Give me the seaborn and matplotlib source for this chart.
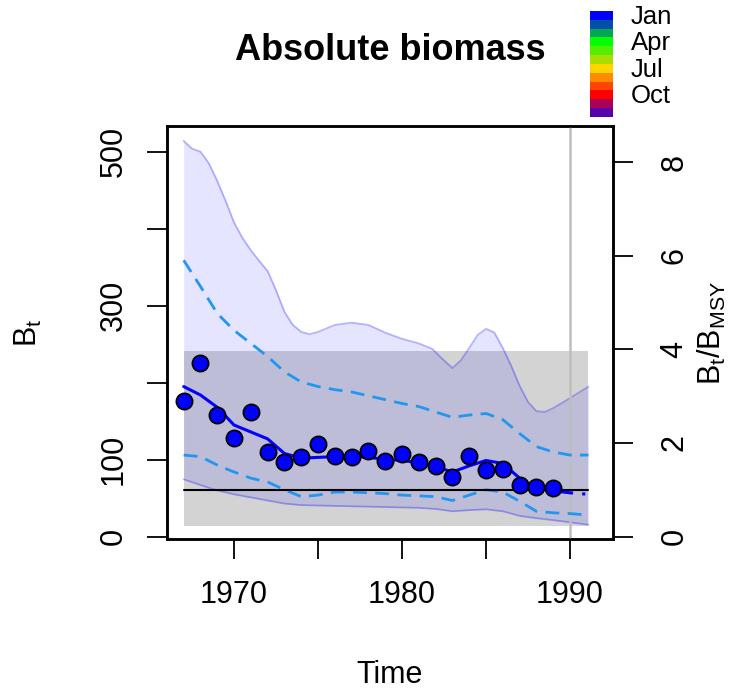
import numpy as np
import pandas as pd
import matplotlib
matplotlib.use("Agg")
import matplotlib.pyplot as plt
import seaborn as sns

# ---------------- data ----------------
obs_years = list(range(1967, 1990))
obs_biomass = [176, 225, 158, 128, 162, 110, 97, 103, 120, 105, 104, 111, 98,
               108, 97, 92, 77, 105, 87, 88, 67, 64, 63.5]

est_years = list(range(1967, 1991))
est_biomass = [195, 184, 168, 145, 136, 127, 108, 102, 103, 104, 105, 103, 100.5,
               99, 96, 91, 84, 92, 99, 95, 76, 63, 59.5, 57]

fc_years = [1990, 1991.1]
fc_biomass = [57, 55]

ci_years = list(range(1967, 1991)) + [1991.1]
ci_low = [106, 104, 93, 84, 76, 71, 61, 52, 54, 58, 58, 57, 56, 54, 53, 52, 47,
          54, 61, 58, 46, 33, 31, 30, 28]
ci_high = [359, 325, 290, 268, 251, 234, 214, 201, 195, 191, 188, 183, 178, 173,
           169, 162, 155, 158, 160, 152, 134, 117, 110, 106, 106]

band_up_years = [1967, 1967.5, 1968, 1968.5, 1969, 1969.5, 1970, 1970.5, 1971,
                 1971.5, 1972, 1972.5, 1973, 1973.5, 1974, 1974.5, 1975, 1976,
                 1977, 1978, 1979, 1980, 1981, 1981.8, 1982.3, 1983, 1983.5, 1984,
                 1984.5, 1985, 1985.5, 1986, 1986.5, 1987, 1987.5, 1988, 1988.5,
                 1989, 1990, 1991.1]
band_up = [514, 504, 500, 485, 462, 436, 408, 388, 372, 358, 345, 320, 292, 275,
           266, 263, 266, 275, 278, 275, 265, 257, 251, 244, 233, 219, 229, 245,
           262, 270, 265, 245, 222, 196, 175, 163, 162, 167, 180, 195]

band_low_years = list(range(1967, 1991)) + [1991.1]
band_low = [74.5, 67, 60, 55, 51, 47, 43, 41, 40.5, 40, 39.5, 39, 38.5, 38, 37.5,
            36, 33, 34.5, 35.5, 33, 27, 24, 21.5, 18.7, 15.5]

Bmsy = 60.8
Bmsy_ci = [14.3, 241]
rect_years = [1967, 1991.1]
t_last = 1990

month_colors = ["#0000FF", "#0050AA", "#00A856", "#00FF00", "#55EE00", "#AADD00",
                "#FFD500", "#FF8C00", "#FF4500", "#FF0000", "#AA0055", "#5500AA"]
month_labels = ["Jan", "Apr", "Jul", "Oct"]

left_ticks = [0, 100, 200, 300, 400, 500]
left_ticklabels = ["0", "100", "", "300", "", "500"]
right_ticks = [0, 2, 4, 6, 8]
x_ticks = [1970, 1975, 1980, 1985, 1990]
x_ticklabels = ["1970", "", "1980", "", "1990"]

# ---------------- style ----------------
sns.set_theme(style="ticks")
plt.rcParams["font.family"] = ["Liberation Sans", "DejaVu Sans"]
plt.rcParams["mathtext.fontset"] = "custom"
plt.rcParams["mathtext.rm"] = "Liberation Sans"
plt.rcParams["mathtext.it"] = "Liberation Sans:italic"
plt.rcParams["mathtext.bf"] = "Liberation Sans:bold"
plt.rcParams["text.color"] = "black"
plt.rcParams["axes.labelcolor"] = "black"
plt.rcParams["xtick.color"] = "black"
plt.rcParams["ytick.color"] = "black"

W, H = 729, 694
fig = plt.figure(figsize=(W / 100, H / 100), dpi=100)
L, R, T, B = 166.7, 613, 126, 539.3
ax = fig.add_axes([L / W, 1 - B / H, (R - L) / W, (B - T) / H])
ax.set_facecolor("white")

# gray Bmsy CI rectangle
ax.fill_between(rect_years, [Bmsy_ci[0]] * 2, [Bmsy_ci[1]] * 2,
                color="#D3D3D3", lw=0, zorder=1)

# lavender CI band
t_all = sorted(set(band_up_years) | set(band_low_years))
ax.fill_between(t_all, np.interp(t_all, band_low_years, band_low),
                np.interp(t_all, band_up_years, band_up),
                color=(0, 0, 1, 0.1), lw=0, zorder=2)
sns.lineplot(x=band_up_years, y=band_up, ax=ax, color=(0, 0, 1, 0.28),
             lw=1.3, estimator=None, sort=False, zorder=3)
sns.lineplot(x=band_low_years, y=band_low, ax=ax, color=(0, 0, 1, 0.28),
             lw=1.3, estimator=None, sort=False, zorder=3)

# vertical line at last data time
ax.axvline(t_last, color="#BEBEBE", lw=1.8, zorder=3)

# dashed CI lines
for yy in (ci_low, ci_high):
    sns.lineplot(x=ci_years, y=yy, ax=ax, color="#2196F3", lw=2.0,
                 linestyle=(0, (5, 3)), estimator=None, sort=False, zorder=4)

# Bmsy line
ax.plot(rect_years, [Bmsy, Bmsy], color="black", lw=1.5, zorder=5)

# estimate
sns.lineplot(x=est_years, y=est_biomass, ax=ax, color="#0000FF", lw=2.2,
             estimator=None, sort=False, zorder=6)
sns.lineplot(x=fc_years, y=fc_biomass, ax=ax, color="#0000FF", lw=2.2,
             linestyle=(0, (1, 3)), estimator=None, sort=False, zorder=6)

# observations
sns.scatterplot(x=obs_years, y=obs_biomass, ax=ax, s=135, color="#0000FF",
                edgecolor="black", linewidth=1.3, zorder=7)

ax.set_xlim(1965.99, 1992.56)
ymin, ymax = -3.4, 533.4
ax.set_ylim(ymin, ymax)

ax.set_xticks(x_ticks)
ax.set_xticklabels(x_ticklabels)
ax.set_yticks(left_ticks)
ax.set_yticklabels(left_ticklabels, rotation=90, va="center")
ax.tick_params(axis="both", direction="out", length=14.4, width=1.3,
               labelsize=22, colors="black")
ax.tick_params(axis="x", pad=15)
ax.tick_params(axis="y", pad=13)
for s in ax.spines.values():
    s.set_visible(True)
    s.set_linewidth(1.8)
    s.set_color("black")

ax2 = ax.twinx()
ax2.set_ylim(ymin / Bmsy, ymax / Bmsy)
ax2.set_yticks(right_ticks)
ax2.set_yticklabels([str(v) for v in right_ticks], rotation=90, va="center")
ax2.tick_params(axis="y", direction="out", length=14.4, width=1.3,
                labelsize=22, colors="black", pad=19)
for s in ax2.spines.values():
    s.set_linewidth(1.8)
    s.set_color("black")

ax.set_xlabel("Time", fontsize=22, color="black")
ax.xaxis.set_label_coords(0.5, (B - 675) / (B - T))
ax.set_ylabel(r"$\mathrm{B_t}$", fontsize=22, color="black")
ax.yaxis.set_label_coords((28 - L) / (R - L), 0.5)
ax.yaxis.label.set_va("center")
ax2.set_ylabel(r"$\mathrm{B_t/B_{MSY}}$", fontsize=22, rotation=90, color="black")
ax2.yaxis.set_label_coords((712 - L) / (R - L), 0.5)
ax2.yaxis.label.set_va("center")
ax.xaxis.label.set_va("center")

ax.set_title("Absolute biomass", fontsize=26, fontweight="bold", color="black",
             y=(B - 50) / (B - T), va="center", pad=0)

# month colour legend
lax = fig.add_axes([590 / W, 1 - 116.7 / H, 22.7 / W, 105.7 / H])
rgb = np.array([matplotlib.colors.to_rgb(c) for c in month_colors])[:, None, :]
lax.imshow(rgb, aspect="auto", interpolation="nearest")
lax.set_axis_off()
for i, lab in enumerate(month_labels):
    yc = 11 + 8.8 * (3 * i + 0.5) + 1.5
    fig.text(631 / W, 1 - yc / H, lab, fontsize=18.5, va="center", ha="left",
             color="black")

fig.savefig("out.png", dpi=100)
